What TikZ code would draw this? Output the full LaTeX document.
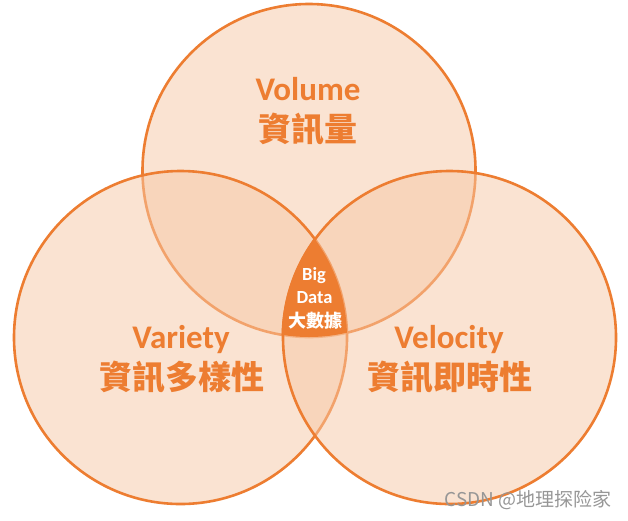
\documentclass[tikz,border=0pt]{standalone}
\usepackage{fontspec}
\setmainfont{Carlito}
\newfontfamily\cjk{Noto Sans CJK TC}
\newfontfamily\cjksc{Noto Sans CJK SC}
\definecolor{vorange}{RGB}{237,125,49}
\definecolor{vfill}{RGB}{247,200,166}
\definecolor{wmgray}{RGB}{150,150,150}
\tikzset{
  venn/.style={circle, draw=vorange, line width=2.6pt, fill=vfill, fill opacity=0.5, draw opacity=1, minimum size=333pt, inner sep=0pt, outer sep=0pt},
  lat/.style={font=\fontsize{33}{36}\selectfont\bfseries, text=vorange, inner sep=0pt, anchor=base},
  han/.style={font=\fontsize{33}{36}\selectfont\cjk\bfseries, text=vorange, inner sep=0pt, anchor=center},
  smlat/.style={font=\fontsize{18.5}{20}\selectfont\bfseries, text=white, inner sep=0pt, anchor=base},
  smhan/.style={font=\fontsize{18}{20}\selectfont\cjk\bfseries, text=white, inner sep=0pt, anchor=center},
  wm/.style={font=\fontsize{19}{21}\selectfont\cjksc, text=wmgray, inner sep=0pt, anchor=center}
}
\begin{document}
\begin{tikzpicture}[x=1pt,y=-1pt]
\useasboundingbox (0,0) rectangle (628,520);
\fill[white] (0,0) rectangle (628,520);
\node[venn] (top) at (309,170.5) {};
\node[venn] (left) at (180.5,337.5) {};
\node[venn] (right) at (449.5,337.5) {};
\begin{scope}
  \clip (309,170.5) circle[radius=166.5];
  \clip (180.5,337.5) circle[radius=166.5];
  \fill[vorange] (449.5,337.5) circle[radius=168];
\end{scope}
\node[lat] (volume) at (308,100) {Volume};
\node[han] (volzh) at (308,129.5) {資訊量};
\node[lat] (variety) at (181,348) {Variety};
\node[han] (varzh) at (182,377.5) {資訊多樣性};
\node[lat] (velocity) at (449,348) {Velocity};
\node[han] (velzh) at (450,377.5) {資訊即時性};
\node[smlat] (big) at (314,280) {Big};
\node[smlat] (data) at (314.5,303) {Data};
\node[smhan] (bigzh) at (315.5,320.5) {大數據};
\node[wm] (watermark) at (528,500) {CSDN @地理探险家};
\end{tikzpicture}
\end{document}
